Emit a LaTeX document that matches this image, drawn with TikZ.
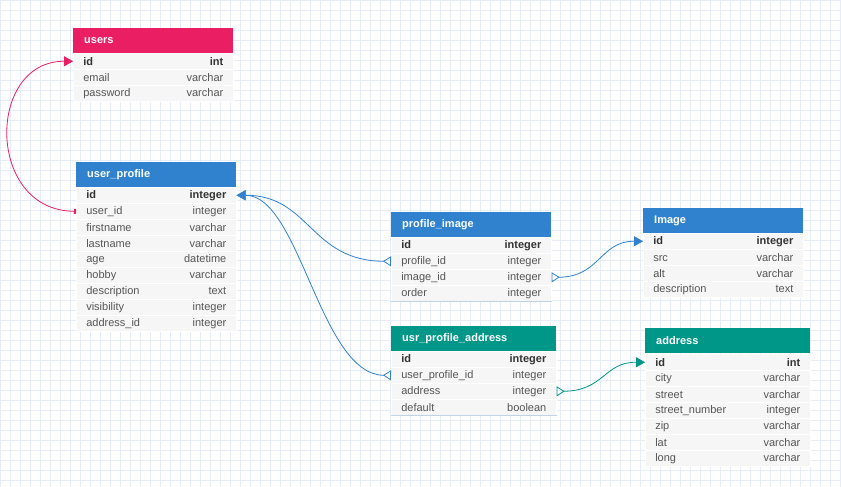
\documentclass[tikz,border=0pt]{standalone}
\usepackage{fontspec}
\setmainfont{Liberation Sans}
\usetikzlibrary{arrows.meta,positioning}
\definecolor{erpink}{HTML}{E91E63}
\definecolor{erblue}{HTML}{3182CE}
\definecolor{erteal}{HTML}{009688}
\definecolor{errow}{HTML}{F6F6F6}
\definecolor{ergrid}{HTML}{E6ECF8}
\definecolor{ertext}{HTML}{555555}
\definecolor{erkey}{HTML}{333333}
\definecolor{erline}{HTML}{C3D3E6}

\begin{document}
\begin{tikzpicture}[x=1pt, y=-1pt,
    font=\fontsize{11}{13}\selectfont,
    head/.style={anchor=north west, minimum height=25pt, inner xsep=11pt,
                 inner ysep=0pt, text width=138pt, text=white,
                 font=\fontsize{11}{13}\selectfont\bfseries},
    row/.style={anchor=north west, fill=errow, draw=white, line width=0.6pt,
                minimum height=16pt, inner xsep=10pt, inner ysep=0pt,
                text width=140pt, text=ertext},
    key/.style={row, text=erkey, font=\fontsize{11}{13}\selectfont\bfseries},
    wide/.style={text width=145pt},
    bottom/.style={draw=erline, line width=0.8pt},
    rel/.style={line width=0.8pt, draw=erblue,
                {Triangle[open,reversed,length=8pt,width=10pt]}-{Triangle[length=9pt,width=10pt]}},
    relfk/.style={line width=0.8pt,
                  {Triangle[open,reversed,length=8pt,width=10pt]}-{Triangle[length=9pt,width=10pt]}},
    relone/.style={line width=0.8pt, draw=erpink,
                   {Rectangle[length=2pt,width=5pt]}-{Triangle[length=9pt,width=10pt]}}
]
\fill[white] (0,0) rectangle (841,487);
\useasboundingbox (0,0) rectangle (841,487);
\draw[ergrid, line width=0.5pt, step=10pt] (0,0) grid (841,487);

% users
\node[head, fill=erpink] (users) at (73,28) {users};
\node[key] (users-id) at (73,53) {id\hfill int};
\node[row] (users-email) at (73,69) {email\hfill varchar};
\node[row] (users-password) at (73,85) {password\hfill varchar};

% user_profile
\node[head, fill=erblue] (up) at (76,162) {user\_profile};
\node[key] (up-id) at (76,187) {id\hfill integer};
\node[row] (up-userid) at (76,203) {user\_id\hfill integer};
\node[row] (up-firstname) at (76,219) {firstname\hfill varchar};
\node[row] (up-lastname) at (76,235) {lastname\hfill varchar};
\node[row] (up-age) at (76,251) {age\hfill datetime};
\node[row] (up-hobby) at (76,267) {hobby\hfill varchar};
\node[row] (up-description) at (76,283) {description\hfill text};
\node[row] (up-visibility) at (76,299) {visibility\hfill integer};
\node[row] (up-addressid) at (76,315) {address\_id\hfill integer};

% profile_image
\node[head, fill=erblue] (pimg) at (391,212) {profile\_image};
\node[key] (pimg-id) at (391,237) {id\hfill integer};
\node[row] (pimg-profileid) at (391,253) {profile\_id\hfill integer};
\node[row] (pimg-imageid) at (391,269) {image\_id\hfill integer};
\node[row] (pimg-order) at (391,285) {order\hfill integer};
\draw[bottom] (pimg-order.south west) -- (pimg-order.south east);

% Image
\node[head, fill=erblue] (img) at (643,208) {Image};
\node[key] (img-id) at (643,233) {id\hfill integer};
\node[row] (img-src) at (643,249) {src\hfill varchar};
\node[row] (img-alt) at (643,265) {alt\hfill varchar};
\node[row] (img-description) at (643,281) {description\hfill text};

% usr_profile_address
\node[head, fill=erteal, text width=143pt] (upaddr) at (391,326) {usr\_profile\_address};
\node[key, wide] (upaddr-id) at (391,351) {id\hfill integer};
\node[row, wide] (upaddr-upid) at (391,367) {user\_profile\_id\hfill integer};
\node[row, wide] (upaddr-address) at (391,383) {address\hfill integer};
\node[row, wide] (upaddr-default) at (391,399) {default\hfill boolean};
\draw[bottom] (upaddr-default.south west) -- (upaddr-default.south east);

% address
\node[head, fill=erteal, text width=143pt] (addr) at (645,328) {address};
\node[key, wide] (addr-id) at (645,354) {id\hfill int};
\node[row, wide] (addr-city) at (645,370) {city\hfill varchar};
\node[row, wide] (addr-street) at (645,386) {street\hfill varchar};
\node[row, wide] (addr-number) at (645,402) {street\_number\hfill integer};
\node[row, wide] (addr-zip) at (645,418) {zip\hfill varchar};
\node[row, wide] (addr-lat) at (645,434) {lat\hfill varchar};
\node[row, wide] (addr-long) at (645,450) {long\hfill varchar};

% relations
\draw[relone] (up-userid.west) .. controls (-14,211) and (-14,61) .. (users-id.west);
\draw[rel] (pimg-profileid.west) .. controls (310,261) and (310,195) .. (up-id.east);
\draw[rel] (upaddr-upid.west) .. controls (320,375) and (300,195) .. (up-id.east);
\draw[rel] (pimg-imageid.east) .. controls (600,277) and (600,241) .. (img-id.west);
\draw[relfk, draw=erteal] (upaddr-address.east) .. controls (604,391) and (604,362) .. (addr-id.west);
\end{tikzpicture}
\end{document}
